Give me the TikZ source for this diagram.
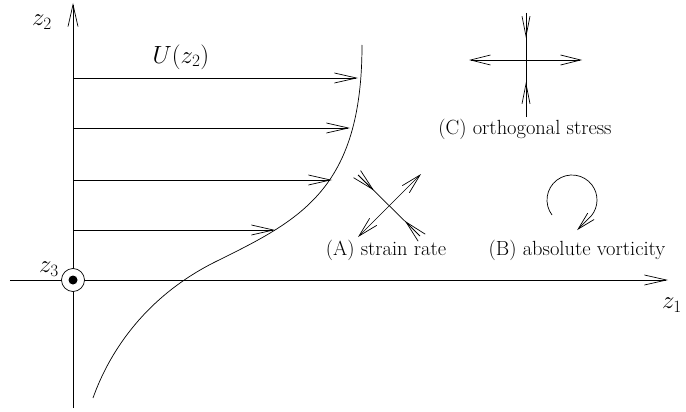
\documentclass[tikz,border=0pt]{standalone}
\usetikzlibrary{arrows.meta,calc}

\begin{document}
\begin{tikzpicture}[x=1pt, y=-1pt, line width=0.7pt,
      tip/.style={-{Straight Barb[length=22pt,width=10pt]}},
      tips/.style={{Straight Barb[length=20pt,width=10pt]}-{Straight Barb[length=20pt,width=10pt]}},
      lbl/.style={font=\fontsize{20.5}{24}\selectfont, inner sep=0pt},
      mlbl/.style={font=\fontsize{26}{30}\selectfont, inner sep=0pt}
    ]
      \useasboundingbox (0,0) rectangle (686,412);

      % axes
      \coordinate (xa) at (10,280);
      \coordinate (xb) at (668,280);
      \coordinate (ya) at (73,408);
      \coordinate (yb) at (73,3);
      \draw[tip] (xa) -- (xb);
      \draw[tip] (ya) -- (yb);
      \node[mlbl] (z1) at (672,305) {$z_1$};
      \node[mlbl] (z2) at (42,22) {$z_2$};
      \node[mlbl] (z3) at (49,269) {$z_3$};
      \node[draw, circle, fill=white, minimum size=23pt, inner sep=0pt] (out) at (73,280) {};
      \fill (out) circle (4.5);

      % velocity profile
      \coordinate (lo) at (93,398);
      \coordinate (mid) at (215,262);
      \coordinate (hi) at (362,45);
      \draw (lo) .. controls (110,350) and (147,296) .. (mid)
                 .. controls (300,220) and (362,190) .. (hi);
      \node[mlbl] (U) at (181,57) {$U(z_2)$};
      \foreach \y/\x in {78/358, 128/350, 180/332, 230/275} {
        \coordinate (s\y) at (73,\y);
        \coordinate (e\y) at (\x,\y);
        \draw[tip] (s\y) -- (e\y);
      }

      % (A) strain rate
      \coordinate (c) at (390,206);
      \coordinate (nw) at (358,175);
      \coordinate (se) at (420,236);
      \coordinate (sw) at (358,237);
      \coordinate (ne) at (421,174);
      \draw[tips] (sw) -- (ne);
      \draw (nw) -- (se);
      \draw[tip] (nw) -- ($(nw)!0.5!(c)$);
      \draw[tip] (se) -- ($(se)!0.5!(c)$);
      \node[lbl] (A) at (386,250) {(A) strain rate};

      % (B) absolute vorticity
      \coordinate (vc) at (572,200);
      \draw[-{Straight Barb[length=18pt,width=9pt]}] (vc) ++(143:25)
        arc[start angle=143, end angle=400, radius=25] -- ++(-14,14);
      \node[lbl] (B) at (577,250) {(B) absolute vorticity};

      % (C) orthogonal stress
      \coordinate (oc) at (526,60);
      \coordinate (ot) at (526,13);
      \coordinate (ob) at (526,117);
      \coordinate (ol) at (469,60);
      \coordinate (or) at (582,60);
      \draw[tips] (ol) -- (or);
      \draw (ot) -- (ob);
      \draw[-{Straight Barb[length=20pt,width=8pt]}] (ot) -- (526,38);
      \draw[-{Straight Barb[length=20pt,width=8pt]}] (ob) -- (526,82);
      \node[lbl] (C) at (525,129) {(C) orthogonal stress};
    \end{tikzpicture}
\end{document}
